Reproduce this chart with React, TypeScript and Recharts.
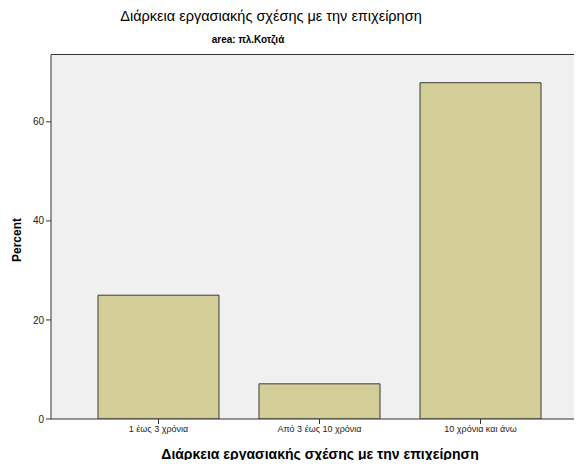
import React from 'react';
import { BarChart, Bar, XAxis, YAxis, CartesianGrid } from 'recharts';

const categories = ['1 έως 3 χρόνια', 'Από 3 έως 10 χρόνια', '10 χρόνια και άνω'];
const percents = [25.0, 7.1, 67.9];
const yTicks = [0, 20, 40, 60];
const yMax = 73.5;

const data = categories.map((c, i) => ({ category: c, percent: percents[i] }));

const font = '"Liberation Sans", Arial, sans-serif';

const App: React.FC = () => {
  return (
    <div style={{ position: 'relative', width: 582, height: 468, margin: -8, overflow: 'hidden', background: '#fff', fontFamily: font }}>
      <div style={{ position: 'absolute', left: 0, width: 542, top: 8, textAlign: 'center', fontSize: 14.5, color: '#000' }}>
        Διάρκεια εργασιακής σχέσης με την επιχείρηση
      </div>
      <div style={{ position: 'absolute', left: 0, width: 496, top: 34, textAlign: 'center', fontSize: 10, fontWeight: 'bold', color: '#000' }}>
        area: πλ.Κοτζιά
      </div>
      <div
        style={{
          position: 'absolute', left: 17, top: 240, fontSize: 12, fontWeight: 'bold',
          transform: 'translate(-50%, -50%) rotate(-90deg)', whiteSpace: 'nowrap', color: '#000',
        }}
      >
        Percent
      </div>
      <div style={{ position: 'absolute', left: 0, width: 640, top: 446, textAlign: 'center', fontSize: 14, fontWeight: 'bold', color: '#000' }}>
        Διάρκεια εργασιακής σχέσης με την επιχείρηση
      </div>
      <div style={{ position: 'absolute', left: 0, top: 0 }}>
        <BarChart width={620} height={468} data={data} margin={{ top: 55, right: 32, bottom: 0, left: 0 }} barSize={121}>
          <CartesianGrid horizontal={false} vertical={false} fill="#f0f0f0" />
          <XAxis
            dataKey="category"
            padding={{ left: 27, right: 27 }}
            height={49}
            axisLine={{ stroke: '#333' }}
            tickLine={{ stroke: '#333' }}
            tickSize={5}
            tick={{ fill: '#222', fontSize: 9, fontFamily: font }}
          />
          <YAxis
            width={51}
            domain={[0, yMax]}
            ticks={yTicks}
            axisLine={{ stroke: '#333' }}
            tickLine={{ stroke: '#333' }}
            tickSize={5}
            tick={{ fill: '#222', fontSize: 10, fontFamily: font }}
            allowDataOverflow
          />
          <Bar dataKey="percent" fill="#d3ce97" stroke="#3a3a3a" strokeWidth={1} isAnimationActive={false} />
        </BarChart>
      </div>
      {/* plot frame (top edge) */}
      <div style={{ position: 'absolute', left: 51, top: 54, width: 560, height: 0, borderTop: '1px solid #333', pointerEvents: 'none' }} />
    </div>
  );
};

export default App;
